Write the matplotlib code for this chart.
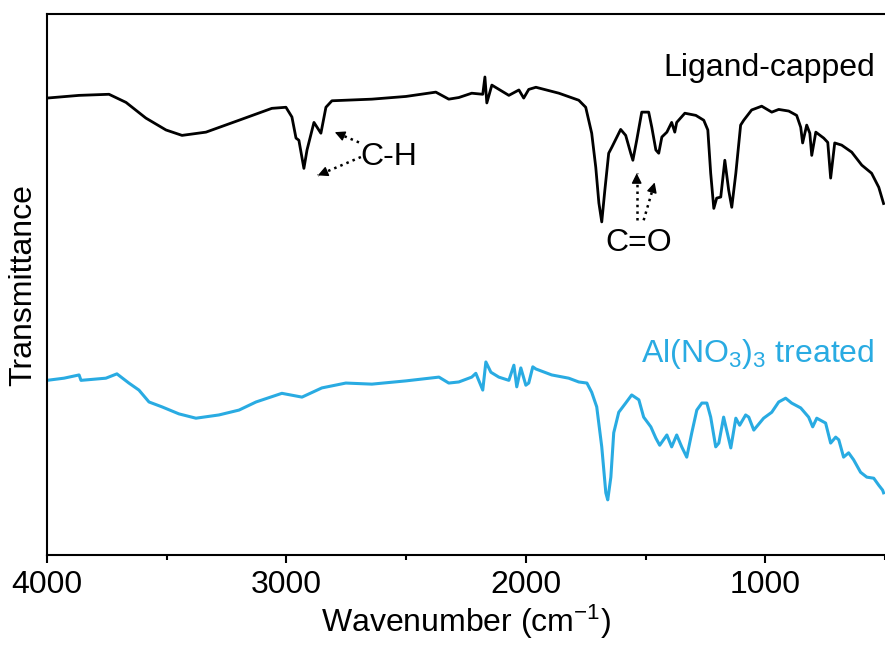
import numpy as np
from matplotlib import pyplot as plt
from matplotlib.ticker import MultipleLocator

# wavenumber (cm-1) and transmittance (a.u.)
wn_ligand = [4000, 3866, 3741, 3670, 3587, 3503, 3436, 3336, 3198, 3061, 3002, 2977,
             2960, 2948, 2927, 2914, 2885, 2856, 2835, 2810, 2643, 2501, 2376, 2322,
             2280, 2226, 2180, 2171, 2163, 2142, 2071, 2029, 2009, 1988, 1958, 1862,
             1779, 1750, 1725, 1708, 1695, 1683, 1670, 1654, 1641, 1604, 1583, 1562,
             1553, 1537, 1516, 1487, 1474, 1457, 1445, 1432, 1411, 1391, 1378, 1370,
             1336, 1290, 1257, 1240, 1228, 1215, 1203, 1186, 1169, 1153, 1140, 1123,
             1103, 1090, 1057, 1015, 973, 944, 902, 869, 852, 844, 827, 814, 806, 789,
             756, 739, 727, 710, 681, 639, 597, 556, 526, 510, 506]
t_ligand = [84.5, 85.0, 85.2, 83.7, 80.8, 78.6, 77.6, 78.2, 80.4, 82.6, 82.8, 81.0,
            77.1, 76.7, 71.5, 74.9, 80.0, 78.0, 82.8, 84.0, 84.3, 84.8, 85.6, 84.3,
            84.6, 85.4, 85.2, 88.4, 83.6, 86.9, 85.0, 86.0, 84.5, 86.1, 86.5, 85.4,
            84.1, 82.8, 78.0, 71.7, 65.1, 61.6, 67.5, 74.3, 75.4, 78.7, 77.6, 74.3,
            73.0, 76.7, 81.9, 81.9, 79.1, 74.9, 74.3, 77.3, 78.2, 80.0, 78.2, 80.0,
            81.7, 81.3, 80.4, 78.6, 70.6, 64.1, 66.0, 66.2, 73.0, 67.5, 64.3, 70.6,
            79.5, 80.4, 82.3, 83.0, 81.9, 82.4, 82.1, 81.3, 79.1, 76.2, 79.5, 78.0, 73.9, 78.2,
            77.1, 76.3, 69.7, 76.2, 75.8, 74.5, 72.1, 70.6, 68.0, 65.6, 65.0]

wn_treated = [4000, 3929, 3866, 3858, 3754, 3708, 3658, 3616, 3574, 3520, 3449, 3378,
              3282, 3198, 3127, 3019, 2935, 2852, 2752, 2643, 2501, 2363, 2322, 2280,
              2226, 2209, 2180, 2167, 2146, 2113, 2071, 2050, 2038, 2021, 2000, 1988,
              1971, 1958, 1892, 1821, 1779, 1745, 1725, 1704, 1683, 1666, 1658, 1645,
              1633, 1612, 1583, 1558, 1528, 1508, 1478, 1457, 1441, 1411, 1391, 1370,
              1349, 1328, 1307, 1286, 1265, 1244, 1228, 1207, 1194, 1174, 1144, 1123,
              1107, 1082, 1069, 1048, 1007, 973, 944, 915, 890, 852, 819, 802, 785,
              748, 727, 706, 693, 673, 652, 631, 602, 576, 547, 526, 510, 506]
t_treated = [32.3, 32.7, 33.3, 32.3, 32.7, 33.5, 31.8, 30.5, 28.3, 27.4, 26.1, 25.3,
             25.9, 26.8, 28.3, 29.9, 29.2, 30.9, 31.8, 31.6, 32.2, 32.9, 31.8, 32.0,
             32.9, 33.6, 30.5, 35.7, 33.8, 32.9, 32.3, 35.1, 31.1, 34.6, 31.4, 31.8,
             34.8, 34.4, 33.3, 32.7, 32.0, 31.8, 30.1, 27.4, 20.0, 11.5, 10.2, 14.4,
             22.6, 26.4, 28.1, 29.6, 28.7, 25.5, 23.7, 21.6, 20.3, 22.2, 20.0, 22.2,
             20.0, 18.1, 22.6, 26.8, 28.1, 28.1, 25.5, 20.0, 20.7, 25.5, 19.8, 25.3,
             24.0, 25.9, 25.5, 23.1, 25.3, 26.4, 28.3, 29.0, 28.1, 27.2, 25.5, 23.7, 25.3,
             24.4, 20.7, 21.8, 21.3, 18.1, 18.9, 17.6, 15.3, 14.4, 14.2, 12.9, 12.0, 11.5]

blue = '#29abe2'
plt.rcParams['font.family'] = ['Liberation Sans', 'DejaVu Sans']
plt.rcParams['mathtext.fontset'] = 'custom'
plt.rcParams['mathtext.rm'] = 'Liberation Sans'
plt.rcParams['mathtext.default'] = 'regular'

fig = plt.figure(figsize=(8.85, 6.48), dpi=100)
ax = fig.add_axes([0.0531, 0.1435, 0.9469, 0.8345])

ax.plot(wn_ligand, t_ligand, color='black', lw=2.0)
ax.plot(wn_treated, t_treated, color=blue, lw=2.2)

ax.set_xlim(4000, 500)
ax.set_ylim(0, 100)
ax.xaxis.set_major_locator(MultipleLocator(1000))
ax.xaxis.set_minor_locator(MultipleLocator(500))
ax.set_yticks([])
ax.spines['right'].set_visible(False)
for s in ['left', 'bottom', 'top']:
    ax.spines[s].set_linewidth(1.5)
ax.tick_params(axis='x', which='major', length=6, width=1.5, labelsize=23, pad=5)
ax.tick_params(axis='x', which='minor', length=3.5, width=1.5)

ax.set_xlabel('Wavenumber (cm$^{\u22121}$)', fontsize=23, labelpad=2)
ax.set_ylabel('Transmittance', fontsize=23, labelpad=6)

ax.text(543, 88.5, 'Ligand-capped', fontsize=23, ha='right', va='baseline')
ax.text(543, 35.7, 'Al(NO$_3$)$_3$ treated', fontsize=23, ha='right', va='baseline', color=blue)


def dotted_arrow(start, end):
    # dotted shaft, solid head
    ax.plot([start[0], end[0]], [start[1], end[1]], ls=':', lw=1.8, color='black')
    p0 = ax.transData.transform(start)
    p1 = ax.transData.transform(end)
    d = (p1 - p0) / np.hypot(*(p1 - p0))
    back = ax.transData.inverted().transform(p1 - d * 9)
    ax.annotate('', xy=end, xytext=back,
                arrowprops=dict(arrowstyle='-|>', lw=1.0, color='black',
                                mutation_scale=15, shrinkA=0, shrinkB=0))


ax.text(2690, 73.6, 'C-H', fontsize=23, ha='left', va='center')
dotted_arrow((2697, 76.3), (2798, 78.2))
dotted_arrow((2689, 73.6), (2869, 70.2))

ax.text(1528, 57.7, 'C=O', fontsize=23, ha='center', va='center')
dotted_arrow((1537, 61.9), (1537, 70.6))
dotted_arrow((1508, 61.9), (1462, 68.9))

plt.savefig('out.png', dpi=100)
